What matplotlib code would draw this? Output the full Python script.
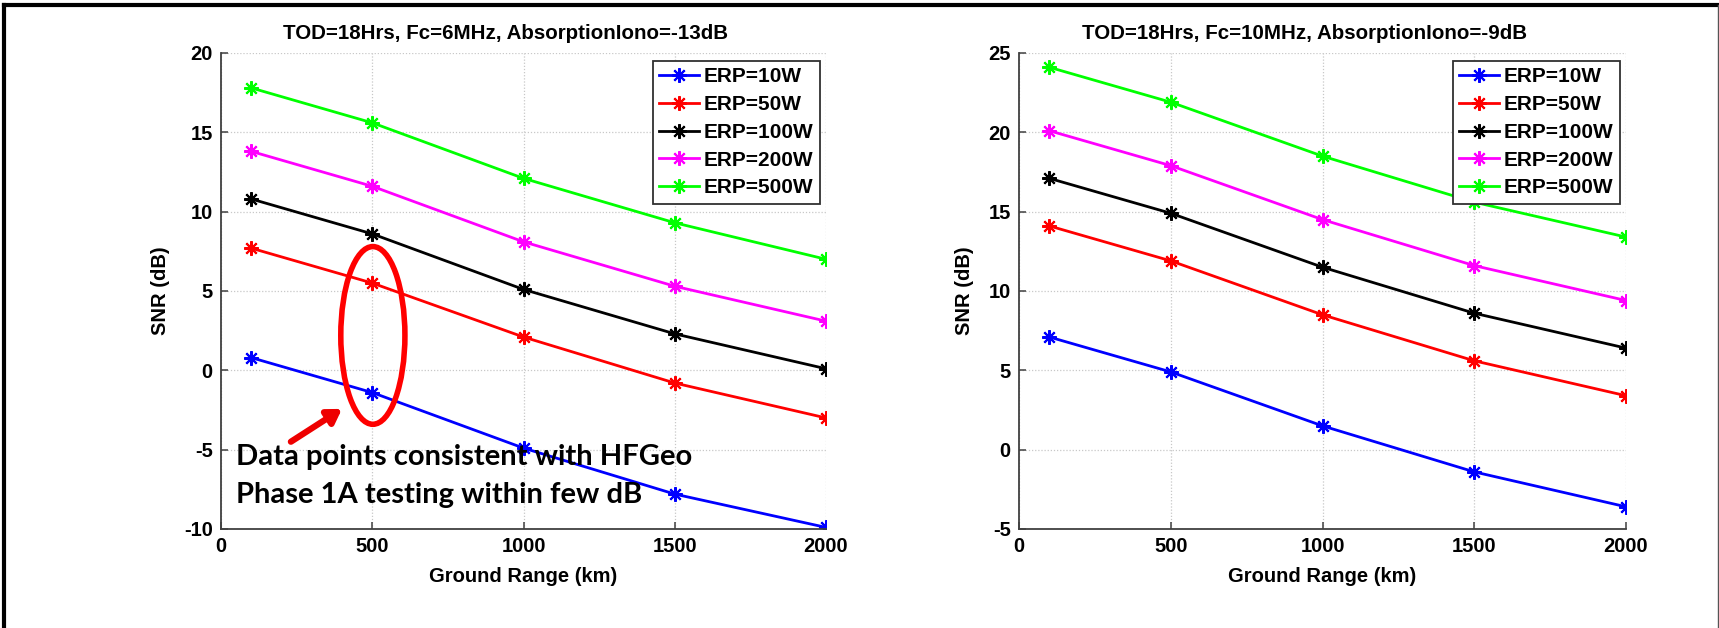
import matplotlib
matplotlib.use("Agg")
import matplotlib.pyplot as plt
from matplotlib.patches import Ellipse
from matplotlib.lines import Line2D

ground_range = [100, 500, 1000, 1500, 2000]
legend_labels = ["ERP=10W", "ERP=50W", "ERP=100W", "ERP=200W", "ERP=500W"]
series_colors = ["#0000ff", "#ff0000", "#000000", "#ff00ff", "#00ff00"]

snr_6mhz = [
    [0.8, -1.4, -4.9, -7.8, -9.9],
    [7.7, 5.5, 2.1, -0.8, -3.0],
    [10.8, 8.6, 5.1, 2.3, 0.1],
    [13.8, 11.6, 8.1, 5.3, 3.1],
    [17.8, 15.6, 12.1, 9.3, 7.0],
]
snr_10mhz = [
    [7.1, 4.9, 1.5, -1.4, -3.6],
    [14.1, 11.9, 8.5, 5.6, 3.4],
    [17.1, 14.9, 11.5, 8.6, 6.4],
    [20.1, 17.9, 14.5, 11.6, 9.4],
    [24.1, 21.9, 18.5, 15.6, 13.4],
]
titles = ["TOD=18Hrs, Fc=6MHz, AbsorptionIono=-13dB",
          "TOD=18Hrs, Fc=10MHz, AbsorptionIono=-9dB"]
ylims = [(-10, 20), (-5, 25)]
x_ticks = [0, 500, 1000, 1500, 2000]
note_lines = ["Data points consistent with HFGeo",
              "Phase 1A testing within few dB"]

FONT = ["Liberation Sans", "DejaVu Sans"]
plt.rcParams["font.family"] = FONT
plt.rcParams["axes.unicode_minus"] = False

W, H = 1719, 628
fig = plt.figure(figsize=(W / 100, H / 100), dpi=100)
fig.patch.set_facecolor("white")

ax_boxes = [(221, 53, 826, 529), (1019, 53, 1626, 529)]
asterisk = (8, 2, 0)

axes = []
for i, (data, ttl, yl, box) in enumerate(zip([snr_6mhz, snr_10mhz], titles, ylims, ax_boxes)):
    x0, y0, x1, y1 = box
    ax = fig.add_axes([x0 / W, (H - y1) / H, (x1 - x0) / W, (y1 - y0) / H])
    axes.append(ax)
    for vals, lab, col in zip(data, legend_labels, series_colors):
        ax.plot(ground_range, vals, color=col, lw=2, marker=asterisk,
                markersize=10.5, markeredgewidth=1.5, label=lab)
    ax.set_xlim(0, 2000)
    ax.set_ylim(*yl)
    ax.set_xticks(x_ticks)
    ax.set_yticks(range(yl[0], yl[1] + 1, 5))
    ax.grid(True, color="#c8c8c8", linestyle=(0, (1, 1.5)), linewidth=0.9)
    ax.set_axisbelow(True)
    for s in ["top", "right"]:
        ax.spines[s].set_visible(False)
    for s in ["left", "bottom"]:
        ax.spines[s].set_color("#404040")
        ax.spines[s].set_linewidth(1.3)
    ax.tick_params(direction="in", length=5, width=1.1, color="#404040",
                   labelsize=14.5, pad=6)
    for lbl in ax.get_xticklabels() + ax.get_yticklabels():
        lbl.set_fontweight("bold")
    ax.set_title(ttl, fontsize=14.8, fontweight="bold", pad=10, x=0.47)
    ax.set_xlabel("Ground Range (km)", fontsize=14.5, fontweight="bold", labelpad=8)
    ax.set_ylabel("SNR (dB)", fontsize=14.5, fontweight="bold", labelpad=10)
    leg = ax.legend(loc="upper right", bbox_to_anchor=(0.990, 0.983),
                    prop={"weight": "bold", "size": 15}, frameon=True,
                    fancybox=False, framealpha=1, edgecolor="#303030",
                    handlelength=1.9, handletextpad=0.25, labelspacing=0.42,
                    borderpad=0.3, borderaxespad=0)
    leg.get_frame().set_linewidth(1.3)

ax = axes[0]
ell = Ellipse((502, 2.2), width=212, height=11.2, fill=False,
              edgecolor="#ff0000", linewidth=4, zorder=5)
ax.add_patch(ell)
ax.annotate("", xy=(400, -2.43), xytext=(231, -4.5),
            arrowprops=dict(arrowstyle="-|>,head_length=0.8,head_width=0.5",
                            color="#ee0000", lw=4.5, shrinkA=0, shrinkB=0),
            zorder=6)
for line, base in zip(note_lines, [-5.96, -8.36]):
    ax.text(48, base, line, fontsize=21, fontweight="bold",
            family=["Lato", "DejaVu Sans"], va="baseline", ha="left", zorder=7)

# slide border
fig.add_artist(Line2D([4 / W, 1717 / W], [1 - 5 / H, 1 - 5 / H], color="black", lw=3))
fig.add_artist(Line2D([4 / W, 4 / W], [0, 1 - 5 / H], color="black", lw=3))
fig.add_artist(Line2D([1717.5 / W, 1717.5 / W], [0, 1 - 5 / H], color="#555555", lw=1))

fig.savefig("out.png", dpi=100, facecolor="white")
